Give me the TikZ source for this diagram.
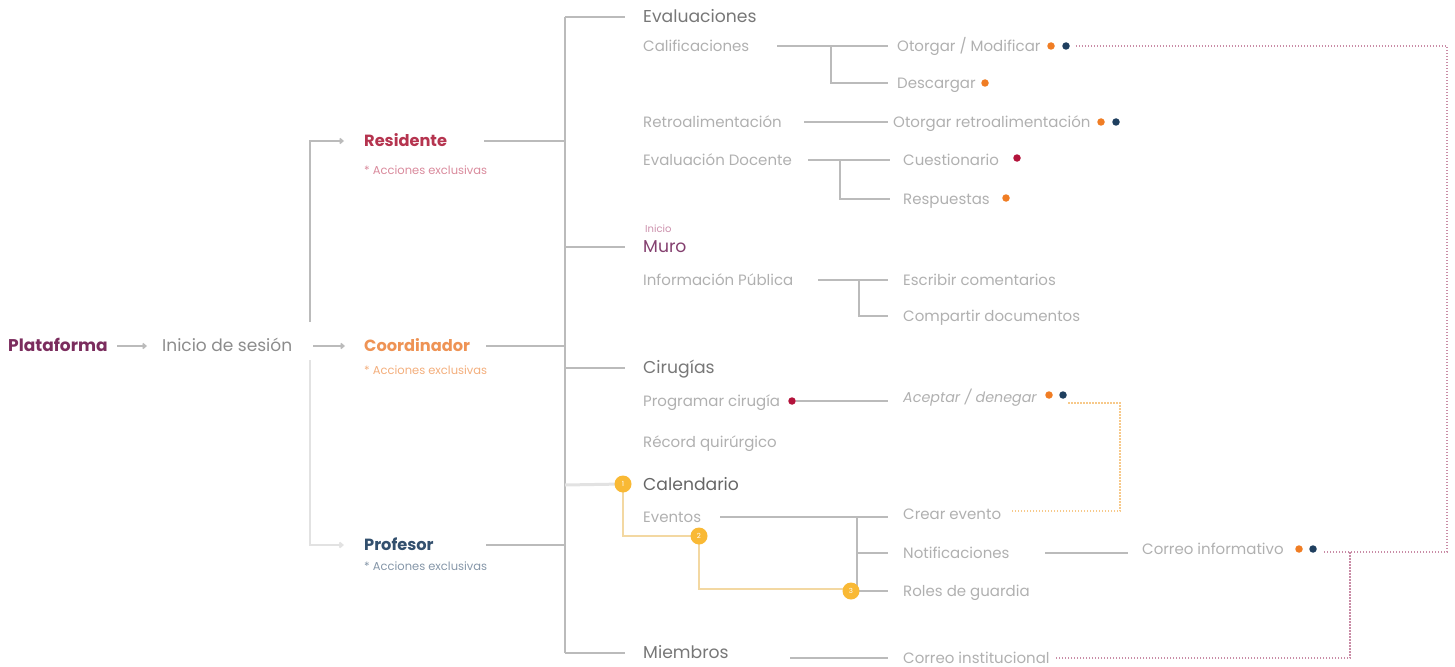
\documentclass[tikz,border=0pt]{standalone}
\usepackage{fontspec}
\setmainfont{Poppins}
\usetikzlibrary{arrows.meta,calc}
\definecolor{plat}{HTML}{7B2D5E}
\definecolor{resc}{HTML}{B5344F}
\definecolor{ress}{HTML}{D98A9C}
\definecolor{cooc}{HTML}{EE9355}
\definecolor{coos}{HTML}{F3AE7C}
\definecolor{proc}{HTML}{33506E}
\definecolor{pros}{HTML}{8596A8}
\definecolor{tlight}{HTML}{B0B0B0}
\definecolor{tmid}{HTML}{8C8C8C}
\definecolor{thead}{HTML}{777777}
\definecolor{murc}{HTML}{84406F}
\definecolor{inic}{HTML}{CB8FAB}
\definecolor{lgray}{HTML}{BBBBBB}
\definecolor{lpale}{HTML}{E2E2E2}
\definecolor{dorange}{HTML}{F07D24}
\definecolor{dnavy}{HTML}{1F3F5F}
\definecolor{dred}{HTML}{B3133B}
\definecolor{badge}{HTML}{F9B935}
\definecolor{ypath}{HTML}{F3D8A2}
\definecolor{pinkdot}{HTML}{C98CA6}
\definecolor{orgdot}{HTML}{F7C98A}
\begin{document}
\begin{tikzpicture}[x=1pt,y=-1pt,
  txt/.style={anchor=west,inner sep=0pt,text height=1.1em,text depth=0em},
  item/.style={txt,font=\fontsize{15}{17}\selectfont,text=tlight},
  head/.style={txt,font=\fontsize{17.2}{19}\selectfont,text=thead},
  role/.style={txt,font=\bfseries\fontsize{16.2}{18}\selectfont},
  sub/.style={txt,font=\fontsize{11.5}{13}\selectfont},
  ln/.style={draw=lgray,line width=1.6pt},
  lnp/.style={draw=lpale,line width=2pt},
  tip/.style={-{Straight Barb[length=3pt,width=5pt]}},
  dot/.style={circle,inner sep=0pt,minimum size=7.5pt},
  bdg/.style={circle,fill=badge,inner sep=0pt,minimum size=17pt,text=white,font=\fontsize{7}{8}\selectfont},
  dotp/.style={draw=pinkdot,line width=1.2pt,dash pattern=on 1.5pt off 1.5pt},
  doto/.style={draw=orgdot,line width=1.2pt,dash pattern=on 1.5pt off 1.5pt},
  ypl/.style={draw=ypath,line width=2pt}]
\useasboundingbox (0,0) rectangle (1455,666);

% left part
\node[txt,font=\bfseries\fontsize{17}{19}\selectfont,text=plat] (plat) at (8,346) {Plataforma};
\node[txt,font=\fontsize{17}{19}\selectfont,text=tmid] (ini) at (162,346) {Inicio de sesión};
\node[role,text=resc] (res) at (364,141) {Residente};
\node[sub,text=ress] (ress) at (364,169) {* Acciones exclusivas};
\node[role,text=cooc] (coo) at (364,346) {Coordinador};
\node[sub,text=coos] (coos) at (364,369) {* Acciones exclusivas};
\node[role,text=proc] (pro) at (364,545) {Profesor};
\node[sub,text=pros] (pros) at (364,565) {* Acciones exclusivas};

\draw[ln,tip] (117,0 |- plat) -- ([xshift=-15]ini.west);
\draw[ln,tip] (313,0 |- ini) -- ([xshift=-19]coo.west);
\draw[ln,tip] (310,322) |- ([xshift=-20]res.west);
\draw[lnp,tip] (310,360) |- ([xshift=-20]pro.west);

% spine
\coordinate (spine) at (565,0);
\draw[ln] (484,0 |- res) -- (spine |- res);
\draw[ln] (486,0 |- coo) -- (spine |- coo);
\draw[ln] (486,0 |- pro) -- (spine |- pro);

% level 2
\node[head] (eva) at (643,17) {Evaluaciones};
\node[item] (cal) at (643,46) {Calificaciones};
\node[item] (retro) at (643,122) {Retroalimentación};
\node[item] (evd) at (643,160) {Evaluación Docente};
\node[txt,font=\fontsize{10}{11}\selectfont,text=inic] (inicio) at (645,227) {Inicio};
\node[head,text=murc] (muro) at (643,247) {Muro};
\node[item] (info) at (643,280) {Información Pública};
\node[head] (cir) at (643,368) {Cirugías};
\node[item] (prog) at (643,401) {Programar cirugía};
\node[item] (record) at (643,442) {Récord quirúrgico};
\node[head,text=black!60] (calend) at (643,485) {Calendario};
\node[item] (evt) at (643,517) {Eventos};
\node[head] (miem) at (643,653) {Miembros};

\draw[ln] (spine |- eva) -- (spine |- miem);
\draw[ln] (spine |- eva) -- ([xshift=-18]eva.west);
\draw[ln] (spine |- muro) -- ([xshift=-18]muro.west);
\draw[ln] (spine |- cir) -- ([xshift=-18]cir.west);
\draw[ln] (spine |- miem) -- ([xshift=-18]miem.west);

% level 3
\node[item] (otor) at (897,46) {Otorgar / Modificar};
\node[item] (desc) at (897,83) {Descargar};
\node[item] (otret) at (893,122) {Otorgar retroalimentación};
\node[item] (cues) at (903,160) {Cuestionario};
\node[item] (resp) at (903,199) {Respuestas};
\node[item] (escr) at (903,280) {Escribir comentarios};
\node[item] (comp) at (903,316) {Compartir documentos};
\node[item,font=\itshape\fontsize{14.3}{16}\selectfont] (acep) at (903,397) {Aceptar / denegar};
\node[item] (crear) at (903,514) {Crear evento};
\node[item] (notif) at (903,553) {Notificaciones};
\node[item] (roles) at (903,591) {Roles de guardia};
\node[item] (cinst) at (903,658) {Correo institucional};
\node[item] (cinf) at (1142,549) {Correo informativo};

% dots
\node[dot,fill=dorange] (d1a) at (1051,46) {};
\node[dot,fill=dnavy] (d1b) at (1066,46) {};
\node[dot,fill=dorange] (d2) at (985,83) {};
\node[dot,fill=dorange] (d3a) at (1101,122) {};
\node[dot,fill=dnavy] (d3b) at (1116,122) {};
\node[dot,fill=dred] (d4) at (1017,158) {};
\node[dot,fill=dorange] (d5) at (1006,198) {};
\node[dot,fill=dred] (d6) at (792,401) {};
\node[dot,fill=dorange] (d7a) at (1049,395) {};
\node[dot,fill=dnavy] (d7b) at (1063,395) {};
\node[dot,fill=dorange] (d8a) at (1299,549) {};
\node[dot,fill=dnavy] (d8b) at (1313,549) {};

% level-3 connectors
\draw[ln] (777,0 |- cal) -- ([xshift=-9]otor.west);
\draw[ln] (831,0 |- cal) |- ([xshift=-9]desc.west);
\draw[ln] (804,0 |- retro) -- ([xshift=-5]otret.west);
\draw[ln] (808,0 |- evd) -- ([xshift=-13]cues.west);
\draw[ln] (840,0 |- evd) |- ([xshift=-13]resp.west);
\draw[ln] (818,0 |- info) -- ([xshift=-15]escr.west);
\draw[ln] (859,0 |- info) |- ([xshift=-15]comp.west);
\draw[ln] (d6.east) -- (888,0 |- d6);
\draw[ln] (720,0 |- evt) -- (888,0 |- evt);
\draw[ln] (857,0 |- evt) |- ([xshift=-15]roles.west);
\draw[ln] (857,0 |- notif) -- ([xshift=-15]notif.west);
\draw[ln] (1045,0 |- notif) -- (1128,0 |- notif);
\draw[ln] (790,0 |- cinst) -- ([xshift=-15]cinst.west);

% dotted links
\draw[dotp] ([xshift=6]d1b.east) -- (1447,0 |- d1b) -- (1447,552) -- ([xshift=6]d8b.east |- 0,552);
\draw[dotp] (1350,552) -- (1350,0 |- cinst) -- (1055,0 |- cinst);
\draw[doto] (1068,403) -- (1120,403) -- (1120,511) -- (1010,511);

% calendar path with badges
\coordinate (b1p) at (623,484);
\coordinate (b2p) at (699,536);
\coordinate (b3p) at (851,591);
\draw[lnp,line width=3pt] (spine |- calend) -- (b1p);
\draw[ypl] (b1p) |- (b2p);
\draw[ypl] (b2p) |- ([yshift=2]b3p);
\node[bdg] (b1) at (b1p) {1};
\node[bdg] (b2) at (b2p) {2};
\node[bdg] (b3) at (b3p) {3};
\end{tikzpicture}
\end{document}
